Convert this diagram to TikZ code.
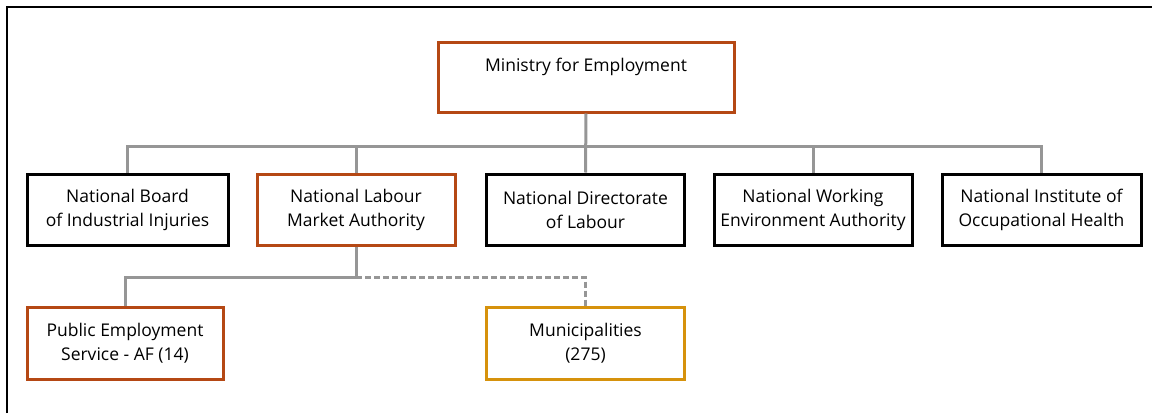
\documentclass[tikz,border=0pt]{standalone}
\usepackage{fontspec}
\setmainfont{Open Sans}
\definecolor{rust}{RGB}{181,72,20}
\definecolor{gold}{RGB}{214,146,12}
\definecolor{linegray}{RGB}{150,150,150}
\tikzset{
  unit/.style={draw=black, line width=3pt, minimum width=198pt, minimum height=71pt,
    align=center, inner sep=0pt, font=\fontsize{17.5}{24}\selectfont},
  conn/.style={draw=linegray, line width=3pt},
}
\begin{document}
\begin{tikzpicture}[x=1pt, y=-1pt]
    \useasboundingbox (0,0) rectangle (1152,413);
    % Frame on top and left
    \draw[line width=2.5pt] (7,413) -- (7,7) -- (1152,7);
    % Ministry
    \node[unit, draw=rust, minimum width=296pt, minimum height=70pt] (min) at (586,77) {Ministry for Employment\\\mbox{}};
    % Second level
    \node[unit, minimum width=201pt] (board) at (127.5,209.5) {National Board\\of Industrial Injuries};
    \node[unit, draw=rust] (nlma) at (356,209.5) {National Labour\\Market Authority};
    \node[unit] (dir) at (585.5,209.5) {National Directorate\\of Labour};
    \node[unit] (work) at (813,209.5) {National Working\\Environment Authority};
    \node[unit, minimum width=199pt] (inst) at (1041.5,209.5) {National Institute of\\Occupational Health};
    % Third level
    \node[unit, draw=rust, minimum width=196pt, minimum height=72pt] (pub) at (125,343) {Public Employment\\Service - AF (14)};
    \node[unit, draw=gold, minimum height=72pt] (mun) at (585.5,343) {Municipalities\\(275)};
    % Connectors
    \coordinate (bus) at (585.5,146);
    \coordinate (split) at (356,277);
    \draw[conn] (min.south) -- (dir.north);
    \draw[conn] (board.north) |- (bus) -| (inst.north);
    \draw[conn] (nlma.north) -- (nlma.north |- bus);
    \draw[conn] (work.north) -- (work.north |- bus);
    \draw[conn] (nlma.south) -- (split) -| (pub.north);
    \draw[conn, dash pattern=on 6pt off 3pt] (split) -| (mun.north);
\end{tikzpicture}
\end{document}
